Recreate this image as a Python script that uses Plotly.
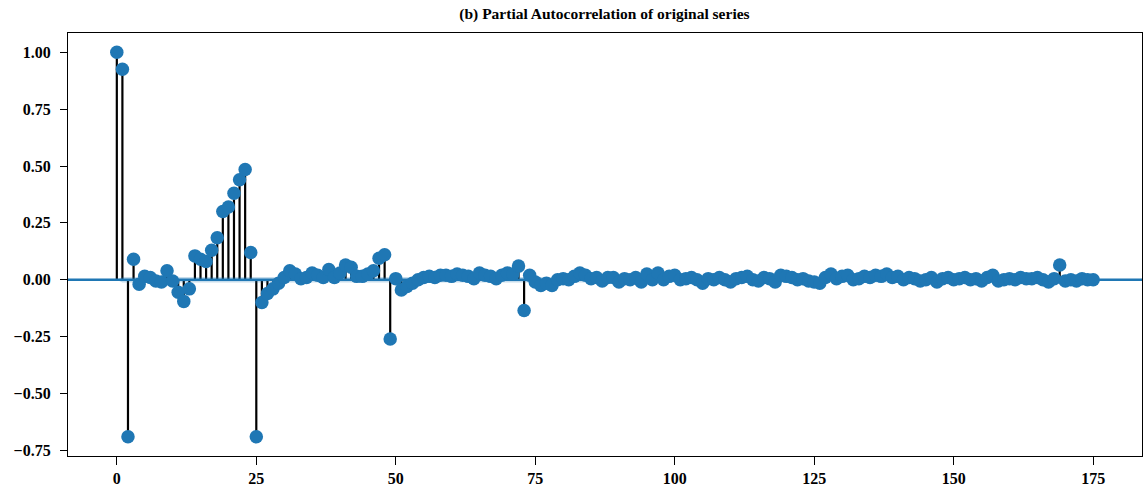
import plotly.graph_objects as go

lags = list(range(0, 176))
pacf_values = [
    1.00, 0.925, -0.69, 0.09, -0.02, 0.015, 0.01, -0.005, -0.01, 0.04,
    -0.005, -0.055, -0.095, -0.04, 0.105, 0.09, 0.08, 0.13, 0.185, 0.30,
    0.32, 0.38, 0.44, 0.485, 0.12, -0.69, -0.10, -0.06, -0.04, -0.015,
    0.01, 0.04, 0.025, 0.005, 0.01, 0.03, 0.02, 0.01, 0.045, 0.01,
    0.03, 0.065, 0.055, 0.015, 0.015, 0.025, 0.04, 0.095, 0.11, -0.26,
    0.005, -0.045, -0.03, -0.015, 0.0, 0.01, 0.015, 0.01, 0.02, 0.02,
    0.015, 0.025, 0.02, 0.015, 0.005, 0.03, 0.02, 0.015, 0.005, 0.02,
    0.03, 0.025, 0.06, -0.135, 0.02, -0.01, -0.025, -0.015, -0.025, 0.0,
    0.005, 0.0, 0.015, 0.03, 0.02, 0.005, 0.01, -0.005, 0.01, 0.01,
    -0.01, 0.005, 0.0, 0.01, -0.01, 0.025, 0.0, 0.03, 0.0, 0.015,
    0.02, 0.0, 0.005, 0.01, 0.0, -0.015, 0.005, 0.0, 0.01, 0.0,
    -0.01, 0.005, 0.01, 0.015, 0.0, -0.005, 0.01, 0.005, -0.01, 0.02,
    0.015, 0.01, 0.0, 0.005, -0.005, -0.01, -0.015, 0.01, 0.025, 0.005,
    0.015, 0.02, 0.0, 0.005, 0.015, 0.01, 0.02, 0.015, 0.025, 0.01,
    0.015, 0.0, 0.01, 0.005, -0.005, 0.0, 0.01, -0.01, 0.005, 0.01,
    0.0, 0.005, 0.01, 0.0, 0.005, -0.005, 0.01, 0.02, -0.005, 0.0,
    0.005, 0.0, 0.01, 0.005, 0.005, 0.01, 0.0, -0.01, 0.005, 0.065,
    -0.005, 0.0, -0.005, 0.005, 0.0, 0.0,
]
conf_half_width = 0.012
x_ticks = [0, 25, 50, 75, 100, 125, 150, 175]
y_ticks = [-0.75, -0.50, -0.25, 0.00, 0.25, 0.50, 0.75, 1.00]
y_tick_labels = ["\u22120.75", "\u22120.50", "\u22120.25", "0.00", "0.25", "0.50", "0.75", "1.00"]
title_text = "<b>(b) Partial Autocorrelation of original series</b>"

BLUE = "#1f77b4"
FONT = "Liberation Serif"

x_lo, x_hi = -8.75, 183.75
y_lo, y_hi = -0.7745, 1.0845

stem_x, stem_y = [], []
for lag, v in zip(lags, pacf_values):
    stem_x += [lag, lag, None]
    stem_y += [0, v, None]

band_x = lags + lags[::-1]
band_up = [0.0] + [conf_half_width] * (len(lags) - 1)
band_dn = [0.0] + [-conf_half_width] * (len(lags) - 1)
band_y = band_up + band_dn[::-1]

fig = go.Figure()
fig.add_trace(go.Scatter(x=stem_x, y=stem_y, mode="lines",
                         line=dict(color="black", width=2.2), hoverinfo="skip"))
fig.add_trace(go.Scatter(x=band_x, y=band_y, fill="toself", mode="none",
                         fillcolor="rgba(31,119,180,0.25)", hoverinfo="skip"))
fig.add_trace(go.Scatter(x=[x_lo, x_hi], y=[0, 0], mode="lines",
                         line=dict(color=BLUE, width=2.5), hoverinfo="skip"))
fig.add_trace(go.Scatter(x=lags, y=pacf_values, mode="markers",
                         marker=dict(color=BLUE, size=13.5, line=dict(width=0))))

fig.update_layout(
    width=1147, height=488,
    margin=dict(l=68, r=5, t=33, b=32, autoexpand=False),
    paper_bgcolor="white", plot_bgcolor="white",
    showlegend=False,
    font=dict(family=FONT, size=16, color="black"),
    title=dict(text=title_text, x=0.527, xanchor="center", y=0.972, yanchor="middle",
               font=dict(family=FONT, size=15.5, color="black")),
)
fig.update_xaxes(range=[x_lo, x_hi], tickvals=x_ticks, ticktext=[f"<b>{t}</b>" for t in x_ticks],
                 ticks="outside", ticklen=8, tickwidth=1.3, tickcolor="black",
                 showline=True, linecolor="black", linewidth=1.3, mirror=True,
                 showgrid=False, zeroline=False, ticklabelstandoff=0, automargin=False)
fig.update_yaxes(range=[y_lo, y_hi], tickvals=y_ticks, ticktext=[f"<b>{t}</b>" for t in y_tick_labels],
                 ticks="outside", ticklen=7, tickwidth=1.3, tickcolor="black",
                 showline=True, linecolor="black", linewidth=1.3, mirror=True,
                 showgrid=False, zeroline=False, ticklabelstandoff=6, automargin=False)

fig.write_html("out.html")
